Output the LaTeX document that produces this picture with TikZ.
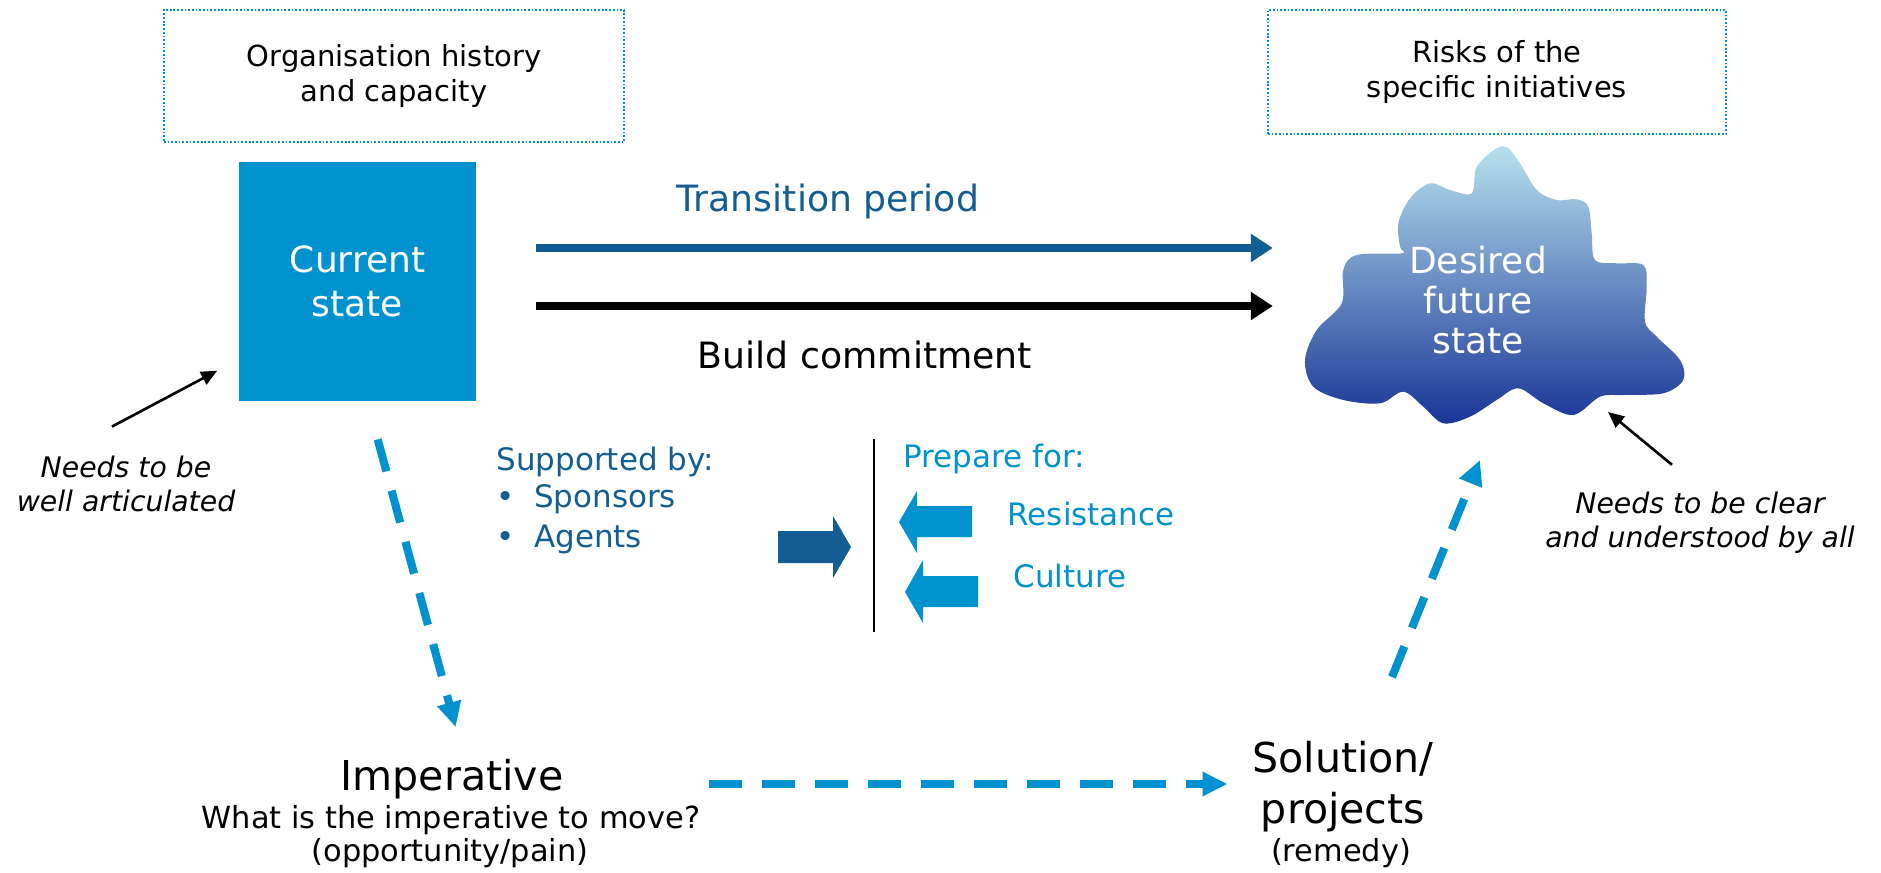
\documentclass[tikz,border=0pt]{standalone}
\usepackage{fontspec}
\setmainfont{DejaVu Sans}
\usetikzlibrary{arrows.meta,calc,positioning}
\definecolor{brightblue}{RGB}{0,146,207}
\definecolor{darkblue}{RGB}{18,94,148}
\definecolor{cloudtop}{RGB}{183,225,238}
\definecolor{cloudbottom}{RGB}{24,52,150}
\tikzset{
  infobox/.style={draw=brightblue, line width=0.6pt, dash pattern=on 0.5pt off 0.55pt,
    align=center, font=\fontsize{8.25}{9.7}\selectfont},
  flow/.style={line width=2.3pt, -{Triangle[length=0.22cm,width=0.27cm]}},
  dasharrow/.style={brightblue, line width=2.3pt, dash pattern=on 0.33cm off 0.2cm,
    -{Triangle[length=0.25cm,width=0.23cm]}},
  note/.style={align=center, font=\fontsize{8.05}{9.7}\selectfont\itshape},
  notearrow/.style={line width=0.75pt, -{Triangle[length=0.16cm,width=0.14cm]}},
  midtext/.style={inner sep=0pt, anchor=base west, font=\fontsize{8.8}{11}\selectfont},
  bigtext/.style={inner sep=0pt, anchor=base, font=\fontsize{11.7}{14}\selectfont},
  smalltext/.style={inner sep=0pt, anchor=base, font=\fontsize{8.65}{11}\selectfont},
}
\begin{document}
\begin{tikzpicture}[x=0.01cm, y=-0.01cm]
  \useasboundingbox (0,0) rectangle (1881,873);

  % dotted boxes on top
  \node[infobox, minimum width=4.6cm, minimum height=1.32cm] (history) at (394,76)
    {Organisation history\\and capacity};
  \node[infobox, minimum width=4.58cm, minimum height=1.24cm] (risks) at (1497,72)
    {Risks of the\\specific initiatives};

  % current state
  \node[fill=brightblue, text=white, minimum width=2.37cm, minimum height=2.39cm,
    align=center, font=\fontsize{10.24}{12.5}\selectfont] (current) at (357.5,281.5)
    {Current\\state};

  % cloud, smooth closed plot
  \shade[top color=cloudtop, bottom color=cloudbottom]
  plot[smooth cycle, tension=0.55] coordinates {
    (1496.7,148.3) (1508.3,148.3) (1520,163.3) (1536.7,190) (1556.7,200)
    (1576.7,199.3) (1588.3,206.7) (1591.7,233.3) (1595,260) (1616.7,263.3)
    (1643.3,265) (1646.7,286.7) (1645,321.7) (1656.7,336.7) (1680,360)
    (1683.3,380) (1663.3,393.3) (1623.3,395) (1600,396.7) (1573.3,415)
    (1543.3,403.3) (1518.3,388.3) (1496.7,400) (1470,416.7) (1443.3,423.3)
    (1423.3,406.7) (1403.3,391.7) (1380,403.3) (1343.3,400) (1313.3,386.7)
    (1305,360) (1316.7,330) (1341.7,303.3) (1343.3,270) (1356.7,255)
    (1401.7,253.3) (1400,246.7) (1398.3,223.3) (1410,198.3) (1430,183.3)
    (1450,190) (1471.7,193.3) (1476.7,166.7)};
  \node[text=white, align=center, font=\fontsize{10.24}{11.4}\selectfont] (desired)
    at (1478,300) {Desired\\future\\state};

  % the two long arrows
  \draw[flow, darkblue] ([xshift=0.59cm,yshift=0.335cm]current.east) -- ++(737,0);
  \draw[flow] ([xshift=0.59cm,yshift=-0.245cm]current.east) -- ++(737,0);
  \node[inner sep=0pt, anchor=base, text=darkblue, font=\fontsize{10.3}{12}\selectfont]
    (transition) at (828,212) {Transition period};
  \node[inner sep=0pt, anchor=base, font=\fontsize{10.3}{12}\selectfont]
    (commitment) at (865,368) {Build commitment};

  % side notes
  \node[note] (articulated) at (126,484) {Needs to be\\well articulated};
  \draw[notearrow] (articulated.north) ++(-14,-17)
    -- ([xshift=-0.21cm,yshift=0.31cm]current.south west);
  \coordinate (cloud-edge) at (1608,412);
  \node[note] (understood) at (1700,523) {Needs to be clear\\and understood by all};
  \draw[notearrow] (understood.north) ++(-28,-15) -- (cloud-edge);

  % support and preparation
  \node[midtext, text=darkblue] (supported) at (496,470) {Supported by:};
  \node[midtext, text=darkblue] (sponsors) at (496,508) {•\hspace{5.5pt}Sponsors};
  \node[midtext, text=darkblue] (agents) at (496,547) {•\hspace{5.5pt}Agents};
  \fill[darkblue] (778,531) -- (833,531) -- (833,516) -- (851,547) -- (833,578)
    -- (833,563) -- (778,563) -- cycle;
  \draw[line width=0.6pt] (874,439) -- (874,632);
  \node[midtext, text=brightblue] (prepare) at (903,467) {Prepare for:};
  \fill[brightblue] (899,522) -- (917,491) -- (917,506) -- (972,506) -- (972,537)
    -- (917,537) -- (917,553) -- cycle;
  \node[midtext, text=brightblue] (resistance) at (1007,525) {Resistance};
  \fill[brightblue] (905,592) -- (923,560) -- (923,576) -- (978,576) -- (978,607)
    -- (923,607) -- (923,623) -- cycle;
  \node[midtext, text=brightblue] (culture) at (1013,587) {Culture};

  % imperative and solution
  \node[bigtext] (imperative) at (452,790) {Imperative};
  \node[smalltext] (question) at (451,828) {What is the imperative to move?};
  \node[smalltext] (pain) at (450,861) {(opportunity/pain)};
  \node[bigtext] (solution) at (1343,772) {Solution/};
  \node[bigtext] (projects) at (1343,823) {projects};
  \node[smalltext] (remedy) at (1341,861) {(remedy)};

  % dashed path round the bottom
  \coordinate (desired-in) at (1480,460);
  \draw[dasharrow, shorten <=0.39cm, shorten >=0.32cm]
    ([xshift=0.1cm]current.south) -- ([xshift=0.12cm]imperative.north);
  \draw[dasharrow, shorten >=0.24cm] (imperative.base east) ++(145,-6)
    -- (solution.west |- 0,784);
  \draw[dasharrow] (solution.north) ++(49,-63) -- (desired-in);
\end{tikzpicture}
\end{document}
